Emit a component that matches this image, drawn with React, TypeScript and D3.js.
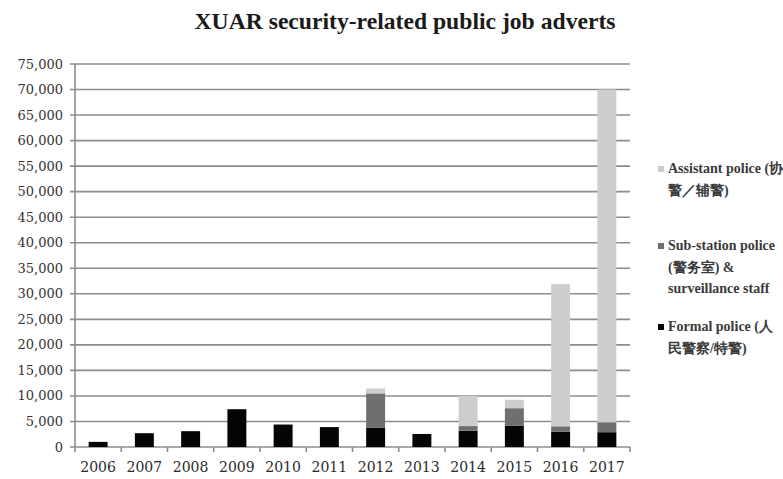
import React from 'react';
import * as d3 from 'd3';

const years = ['2006', '2007', '2008', '2009', '2010', '2011', '2012', '2013', '2014', '2015', '2016', '2017'];
const formalPolice = [1000, 2700, 3100, 7400, 4400, 3900, 3800, 2550, 3200, 4200, 3000, 2900];
const subStation = [0, 0, 0, 0, 0, 0, 6700, 0, 900, 3400, 1050, 1950];
const assistantPolice = [0, 0, 0, 0, 0, 0, 950, 0, 5900, 1650, 27850, 65150];
const yTicks = d3.range(0, 75001, 5000);

const seriesKeys = ['formal', 'sub', 'assistant'];
const seriesColors: Record<string, string> = { formal: '#050505', sub: '#6f6f6f', assistant: '#cdcdcd' };

const W = 783;
const H = 479;
const numFont = '"DejaVu Serif", serif';
const textFont = '"Liberation Serif", serif';

export default function App() {
  const x = d3.scaleBand<string>().domain(years).range([75, 630]).paddingInner(0.59).paddingOuter(0.295);
  const y = d3.scaleLinear().domain([0, 75000]).range([447, 64]);
  const step = x.step();
  const rows = years.map((yr, i) => ({ year: yr, formal: formalPolice[i], sub: subStation[i], assistant: assistantPolice[i] }));
  const stacked = d3.stack<any>().keys(seriesKeys)(rows);

  const legend = [
    { key: 'assistant', y: 173, lines: ['Assistant police (协', '警／辅警)'] },
    { key: 'sub', y: 250, lines: ['Sub-station police', '(警务室) &', 'surveillance staff'] },
    { key: 'formal', y: 331, lines: ['Formal police (人', '民警察/特警)'] },
  ];

  return (
    <svg width={W} height={H} style={{ position: 'absolute', left: 0, top: 0, background: '#fff' }}>
      <rect x={0} y={0} width={W} height={H} fill="#fff" />
      <text x={405} y={29} textAnchor="middle" fontFamily={textFont} fontWeight="bold" fontSize={23} fill="#1a1a1a" textLength={421} lengthAdjust="spacingAndGlyphs">
        XUAR security-related public job adverts
      </text>
      {yTicks.map((t) => (
        <g key={t}>
          <line x1={70} x2={630} y1={y(t)} y2={y(t)} stroke="#8c8c8c" strokeWidth={1.6} />
          <text x={63} y={y(t) + 4.5} textAnchor="end" fontFamily={numFont} fontSize={13} fill="#333">
            {d3.format(',')(t)}
          </text>
        </g>
      ))}
      <line x1={75} x2={75} y1={y(75000)} y2={447} stroke="#8c8c8c" strokeWidth={1.6} />
      {d3.range(0, years.length + 1).map((i) => (
        <line key={i} x1={75 + i * step} x2={75 + i * step} y1={447} y2={452} stroke="#8c8c8c" strokeWidth={1.6} />
      ))}
      {stacked.map((s) => (
        <g key={s.key} fill={seriesColors[s.key]}>
          {s.map((d: any, i: number) =>
            d[1] - d[0] > 0 ? (
              <rect key={i} x={x(years[i])} width={x.bandwidth()} y={y(d[1])} height={y(d[0]) - y(d[1])} />
            ) : null
          )}
        </g>
      ))}
      {years.map((yr) => (
        <text key={yr} x={(x(yr) as number) + x.bandwidth() / 2} y={472} textAnchor="middle" fontFamily={numFont} fontSize={14} fill="#2a2a2a">
          {yr}
        </text>
      ))}
      {legend.map((l) => (
        <g key={l.key}>
          <rect x={658} y={l.y - 7} width={6} height={6} fill={seriesColors[l.key]} />
          {l.lines.map((line, j) => (
            <text key={j} x={668} y={l.y + j * 21.5} fontFamily={textFont} fontWeight="bold" fontSize={14} fill="#3a3a3a">
              {line}
            </text>
          ))}
        </g>
      ))}
    </svg>
  );
}
